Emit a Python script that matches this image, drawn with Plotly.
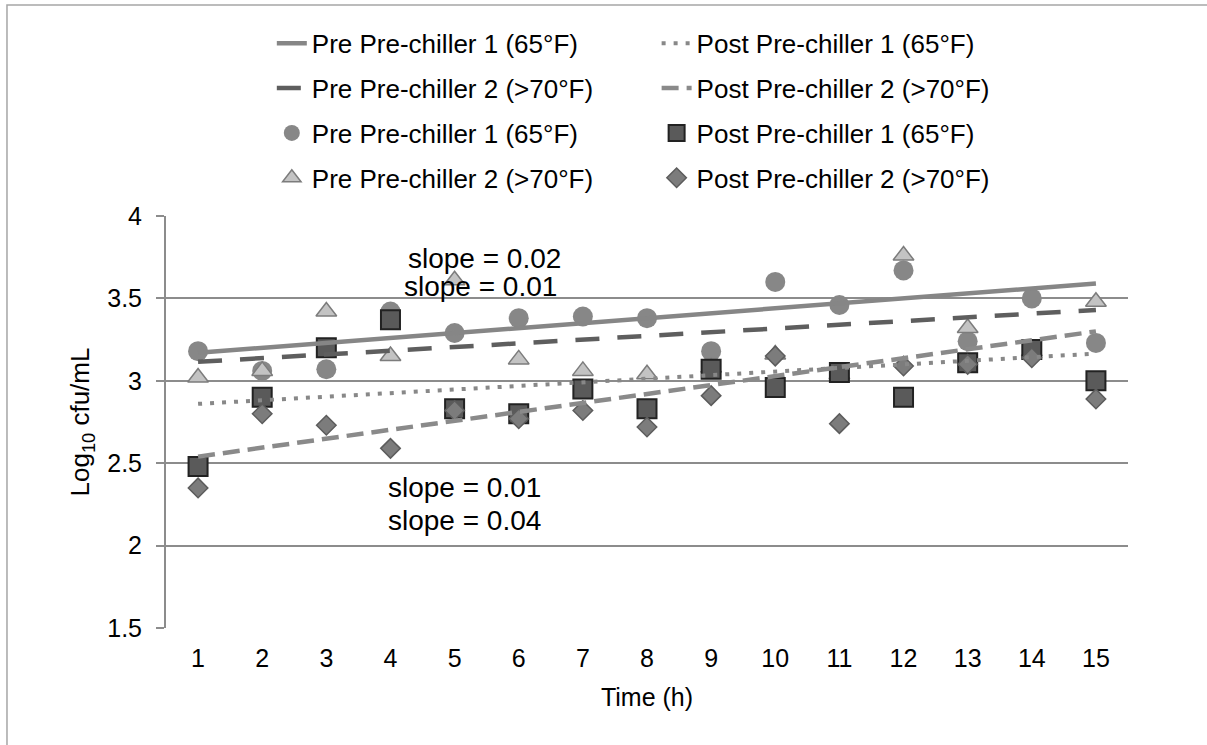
import plotly.graph_objects as go

# ---- data ----
hours = list(range(1, 16))
pre_chiller1 = [3.18, 3.06, 3.07, 3.42, 3.29, 3.38, 3.39, 3.38, 3.18, 3.60, 3.46, 3.67, 3.24, 3.50, 3.23]
post_chiller1 = [2.48, 2.90, 3.20, 3.37, 2.83, 2.80, 2.95, 2.83, 3.07, 2.96, 3.05, 2.90, 3.11, 3.19, 3.00]
pre_chiller2 = [3.02, 3.06, 3.42, 3.15, 3.61, 3.13, 3.06, 3.04, 3.08, 3.16, 3.04, 3.76, 3.32, 3.18, 3.48]
post_chiller2 = [2.35, 2.80, 2.73, 2.59, 2.82, 2.77, 2.82, 2.72, 2.91, 3.15, 2.74, 3.09, 3.10, 3.14, 2.89]

# trendline end values at hour 1 and hour 15
trend_hours = [1, 15]
trend_pre1 = [3.17, 3.59]
trend_post1 = [2.86, 3.165]
trend_pre2 = [3.115, 3.43]
trend_post2 = [2.54, 3.30]

y_ticks = [1.5, 2, 2.5, 3, 3.5, 4]
y_tick_labels = ["1.5", "2", "2.5", "3", "3.5", "4"]

lab_pre1 = "Pre Pre-chiller 1 (65°F)"
lab_post1 = "Post Pre-chiller 1 (65°F)"
lab_pre2 = "Pre Pre-chiller 2 (>70°F)"
lab_post2 = "Post Pre-chiller 2 (>70°F)"

FONT = "Arial, Liberation Sans, sans-serif"

fig = go.Figure()

# markers first (trendlines drawn on top)
fig.add_trace(go.Scatter(x=hours, y=pre_chiller1, mode="markers", name=lab_pre1,
                         legend="legend", legendgroup="g5", legendrank=3,
                         marker=dict(symbol="circle", size=20, color="#878787",
                                     line=dict(color="#878787", width=0))))
fig.add_trace(go.Scatter(x=hours, y=pre_chiller2, mode="markers", name=lab_pre2,
                         legend="legend", legendgroup="g7", legendrank=4,
                         marker=dict(symbol="triangle-up", size=18, color="#c3c3c3",
                                     line=dict(color="#7c7c7c", width=1.5))))
fig.add_trace(go.Scatter(x=hours, y=post_chiller1, mode="markers", name=lab_post1,
                         legend="legend2", legendgroup="g6", legendrank=3,
                         marker=dict(symbol="square", size=19, color="#5a5a5a",
                                     line=dict(color="#222222", width=2))))
fig.add_trace(go.Scatter(x=hours, y=post_chiller2, mode="markers", name=lab_post2,
                         legend="legend2", legendgroup="g8", legendrank=4,
                         marker=dict(symbol="diamond", size=15, color="#7c7c7c",
                                     line=dict(color="#5c5c5c", width=1.5))))

# trendlines
fig.add_trace(go.Scatter(x=trend_hours, y=trend_pre1, mode="lines", name=lab_pre1,
                         legend="legend", legendgroup="g1", legendrank=1,
                         line=dict(color="#868686", width=4.5)))
fig.add_trace(go.Scatter(x=trend_hours, y=trend_pre2, mode="lines", name=lab_pre2,
                         legend="legend", legendgroup="g3", legendrank=2,
                         line=dict(color="#5e5e5e", width=4.5, dash="24px,18px")))
fig.add_trace(go.Scatter(x=trend_hours, y=trend_post1, mode="lines", name=lab_post1,
                         legend="legend2", legendgroup="g2", legendrank=1,
                         line=dict(color="#888888", width=4, dash="4px,8px")))
fig.add_trace(go.Scatter(x=trend_hours, y=trend_post2, mode="lines", name=lab_post2,
                         legend="legend2", legendgroup="g4", legendrank=2,
                         line=dict(color="#8a8a8a", width=4.5, dash="17px,8px")))

ann_font = dict(family=FONT, size=28, color="#000000")
annotations = [
    dict(x=5.47, y=3.74, text="slope = 0.02"),
    dict(x=5.41, y=3.57, text="slope = 0.01"),
    dict(x=5.16, y=2.35, text="slope = 0.01"),
    dict(x=5.16, y=2.155, text="slope = 0.04"),
]
for a in annotations:
    a.update(xref="x", yref="y", showarrow=False, font=ann_font,
             xanchor="center", yanchor="middle")

legend_common = dict(
    orientation="v", yanchor="top", xanchor="left",
    font=dict(family=FONT, size=26, color="#000000"),
    bgcolor="rgba(0,0,0,0)", borderwidth=0, tracegroupgap=8,
    traceorder="grouped", itemsizing="trace",
)

fig.update_layout(
    width=1207, height=745,
    margin=dict(l=166, r=79, t=216, b=117),
    paper_bgcolor="#ffffff", plot_bgcolor="#ffffff",
    font=dict(family=FONT, size=25, color="#000000"),
    showlegend=True,
    legend=dict(x=0.110, y=1.476, **legend_common),
    legend2=dict(x=0.510, y=1.476, **legend_common),
    annotations=annotations,
    xaxis=dict(
        range=[0.5, 15.5], tickmode="array", tickvals=hours,
        ticktext=[str(h) for h in hours],
        showgrid=False, zeroline=False, showline=False,
        ticks="", ticklabelstandoff=13,
        tickfont=dict(family=FONT, size=25, color="#000000"),
        title=dict(text="Time (h)", font=dict(family=FONT, size=25, color="#000000"), standoff=17),
    ),
    yaxis=dict(
        range=[1.5, 4], tickmode="array", tickvals=y_ticks, ticktext=y_tick_labels,
        showgrid=True, gridcolor="#8c8c8c", gridwidth=2,
        zeroline=False, showline=True, linecolor="#8c8c8c", linewidth=2,
        ticks="outside", ticklen=8, tickcolor="#8c8c8c", tickwidth=2,
        ticklabelstandoff=9,
        tickfont=dict(family=FONT, size=25, color="#000000"),
        title=dict(text="Log<sub>10</sub> cfu/mL", font=dict(family=FONT, size=26, color="#000000"), standoff=10),
    ),
    shapes=[
        dict(type="rect", xref="paper", yref="paper",
             x0=-0.1653, x1=1.09, y0=-0.30, y1=1.512,
             line=dict(color="#a6a6a6", width=1.5), fillcolor="rgba(0,0,0,0)", layer="below"),
    ],
)

fig.write_html("out.html")
